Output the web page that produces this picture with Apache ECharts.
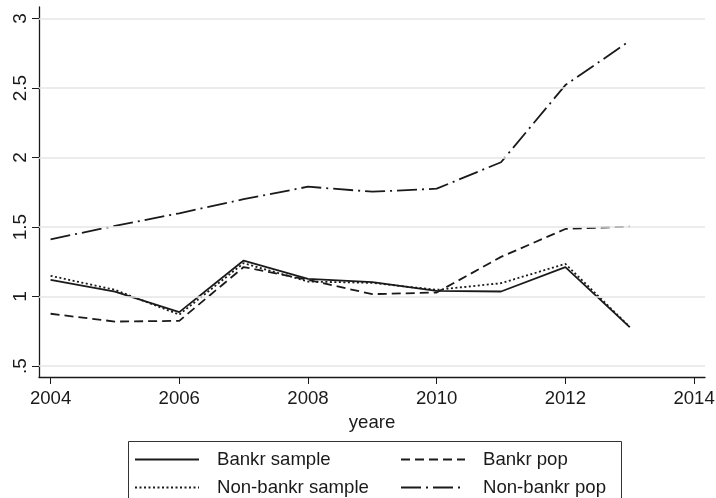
<!DOCTYPE html>
<html><head><meta charset="utf-8">
<script src="https://cdn.jsdelivr.net/npm/echarts@6/dist/echarts.min.js"></script>
<style>html,body{margin:0;padding:0;background:#fff}#c{width:716px;height:498px}</style>
</head><body><div id="c"></div>
<script>
const years = [2004, 2005, 2006, 2007, 2008, 2009, 2010, 2011, 2012, 2013];
const bankrSample    = [1.120, 1.036, 0.888, 1.259, 1.127, 1.103, 1.041, 1.036, 1.211, 0.780];
const nonBankrSample = [1.149, 1.048, 0.870, 1.240, 1.108, 1.098, 1.048, 1.096, 1.235, 0.782];
const bankrPop       = [0.876, 0.820, 0.825, 1.212, 1.120, 1.017, 1.029, 1.285, 1.486, 1.503];
const nonBankrPop    = [1.412, 1.508, 1.599, 1.700, 1.790, 1.754, 1.776, 1.966, 2.521, 2.839];
const yTicks = [0.5, 1, 1.5, 2, 2.5, 3];
const yTickLabels = ['.5', '1', '1.5', '2', '2.5', '3'];
const xTicks = [2004, 2006, 2008, 2010, 2012, 2014];
const xTitle = 'yeare';
const names = ['Bankr sample', 'Bankr pop', 'Non-bankr sample', 'Non-bankr pop'];

const FONT = 'Liberation Sans, Arial, Helvetica, sans-serif';
const INK = '#1a1a1a';
const FS = 18.6;
const pairs = arr => years.map((y, i) => [y, arr[i]]);
const lineSeries = (name, arr, type) => ({
  name, type: 'line', data: pairs(arr), symbol: 'none', z: 3,
  lineStyle: { color: INK, width: 1.8, type },
  itemStyle: { color: INK }
});
const legendCol = (data, left) => ({
  data, orient: 'vertical', left, top: 450, height: 80, padding: 0,
  itemWidth: 64, itemHeight: 18, itemGap: 9,
  itemStyle: { opacity: 0 },
  textStyle: { fontSize: FS, color: INK, fontFamily: FONT, padding: [0, 0, 0, 13] }
});

const chart = echarts.init(document.getElementById('c'), null, { renderer: 'canvas' });
chart.setOption({
  animation: false,
  backgroundColor: '#fff',
  textStyle: { fontFamily: FONT },
  grid: { left: 39, right: 11, top: 7, bottom: 121, containLabel: false, outerBoundsMode: 'none' },
  xAxis: {
    type: 'value', min: 2003.82, max: 2014.17,
    name: xTitle, nameLocation: 'middle', nameGap: 30,
    nameTextStyle: { fontSize: FS, color: INK, fontFamily: FONT },
    axisLine: { show: true, onZero: false, lineStyle: { color: INK, width: 1.3 } },
    axisTick: { show: true, length: 7, customValues: xTicks, lineStyle: { color: INK, width: 1 } },
    axisLabel: { customValues: xTicks, fontSize: FS, color: INK, margin: 12, fontFamily: FONT,
      formatter: v => String(Math.round(v)) },
    splitLine: { show: false }
  },
  yAxis: {
    type: 'value', min: 0.421, max: 3.083,
    axisLine: { show: true, onZero: false, lineStyle: { color: INK, width: 1.3 } },
    axisTick: { show: true, length: 7, customValues: yTicks, lineStyle: { color: INK, width: 1 } },
    axisLabel: {
      customValues: yTicks, rotate: 90, fontSize: 19, color: INK, margin: 9, fontFamily: FONT,
      formatter: v => { const i = yTicks.indexOf(v); return i >= 0 ? yTickLabels[i] : ''; }
    },
    splitLine: { show: false }
  },
  legend: [legendCol([names[0], names[2]], 134), legendCol([names[1], names[3]], 400)],
  graphic: [{
    type: 'rect', left: 126, top: 439, shape: { width: 493, height: 80 },
    style: { fill: 'none', stroke: '#333', lineWidth: 1 }, silent: true
  }],
  series: [
    {
      name: '_grid', type: 'line', data: [], z: 1, silent: true,
      markLine: {
        silent: true, symbol: ['none', 'none'], label: { show: false },
        lineStyle: { color: '#e6e6e6', width: 1.5, type: 'solid' },
        data: yTicks.map(v => ({ yAxis: v }))
      }
    },
    lineSeries(names[0], bankrSample, 'solid'),
    lineSeries(names[1], bankrPop, [9, 5]),
    lineSeries(names[2], nonBankrSample, [2, 2.5]),
    lineSeries(names[3], nonBankrPop, [20, 5, 2, 5])
  ]
});
</script></body></html>
